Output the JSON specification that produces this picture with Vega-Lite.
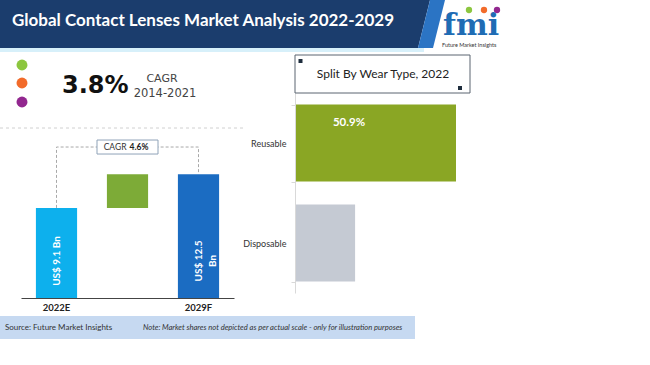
{
  "$schema": "https://vega.github.io/schema/vega-lite/v6.json",
  "width": 650,
  "height": 365,
  "autosize": "none",
  "padding": 0,
  "background": "white",
  "config": {"view": {"stroke": null}, "font": "Lato"},
  "datasets": {
    "deco": [{}],
    "market": [
      {"year": "2022E", "start": 0, "end": 9.1, "label": "US$ 9.1 Bn"},
      {"year": "CAGR", "start": 9.1, "end": 12.5, "label": ""},
      {"year": "2029F", "start": 0, "end": 12.5, "label": "US$ 12.5\nBn"}
    ],
    "connector": [
      {"cat": "2022E", "v": 9.1, "o": 1},
      {"cat": "2022E", "v": 15.25, "o": 2},
      {"cat": "2029F", "v": 15.25, "o": 3},
      {"cat": "2029F", "v": 12.5, "o": 4}
    ],
    "cagr": [{"cat": "CAGR", "v": 15.25}],
    "wear": [
      {"type": "Reusable", "share": 50.9, "label": "50.9%"},
      {"type": "Disposable", "share": 18.8, "label": ""}
    ]
  },
  "data": {"name": "deco"},
  "layer": [
    {"mark": {"type": "point", "shape": "M0,0L430,0L418,48L0,48Z", "size": 4, "filled": true, "fill": "#1b3d6d", "opacity": 1, "strokeWidth": 0}, "encoding": {"x": {"value": 0}, "y": {"value": 0}}},
    {"mark": {"type": "point", "shape": "M430,0L445,0L433,48L418,48Z", "size": 4, "filled": true, "fill": "#2b74c4", "opacity": 1, "strokeWidth": 0}, "encoding": {"x": {"value": 0}, "y": {"value": 0}}},
    {"mark": {"type": "rect", "fill": "#d7f0fa"}, "encoding": {"x": {"value": 0}, "x2": {"value": 424}, "y": {"value": 48}, "y2": {"value": 52}}},
    {"mark": {"type": "text", "text": "Global Contact Lenses Market Analysis 2022-2029", "font": "Lato", "fontWeight": "bold", "fontSize": 17, "color": "white", "align": "left", "baseline": "alphabetic"}, "encoding": {"x": {"value": 12}, "y": {"value": 26}}},
    {"mark": {"type": "text", "text": "fmi", "font": "DejaVu Serif", "fontWeight": "bold", "fontSize": 30, "color": "#1f6cb4", "align": "left", "baseline": "alphabetic"}, "encoding": {"x": {"value": 443}, "y": {"value": 35}}},
    {"mark": {"type": "text", "text": "Future Market Insights", "fontSize": 5.5, "color": "#333333", "align": "left", "baseline": "middle"}, "encoding": {"x": {"value": 442}, "y": {"value": 45}}},
    {"mark": {"type": "point", "shape": "circle", "size": 40, "filled": true, "opacity": 1, "fill": "#8cc63f"}, "encoding": {"x": {"value": 469}, "y": {"value": 10}}},
    {"mark": {"type": "point", "shape": "circle", "size": 40, "filled": true, "opacity": 1, "fill": "#f26b2a"}, "encoding": {"x": {"value": 484}, "y": {"value": 10}}},
    {"mark": {"type": "point", "shape": "circle", "size": 40, "filled": true, "opacity": 1, "fill": "#92278f"}, "encoding": {"x": {"value": 497}, "y": {"value": 10}}},
    {"mark": {"type": "point", "shape": "circle", "size": 120, "filled": true, "opacity": 1, "fill": "#8cc63f"}, "encoding": {"x": {"value": 22}, "y": {"value": 65}}},
    {"mark": {"type": "point", "shape": "circle", "size": 120, "filled": true, "opacity": 1, "fill": "#f26b2a"}, "encoding": {"x": {"value": 22}, "y": {"value": 83}}},
    {"mark": {"type": "point", "shape": "circle", "size": 120, "filled": true, "opacity": 1, "fill": "#92278f"}, "encoding": {"x": {"value": 22}, "y": {"value": 102}}},
    {"mark": {"type": "text", "text": "3.8%", "font": "DejaVu Sans", "fontWeight": "bold", "fontSize": 24, "color": "#111111", "align": "left", "baseline": "alphabetic"}, "encoding": {"x": {"value": 62}, "y": {"value": 93}}},
    {"mark": {"type": "text", "text": "CAGR", "font": "DejaVu Sans", "fontSize": 11, "color": "#444444", "align": "center", "baseline": "alphabetic"}, "encoding": {"x": {"value": 162}, "y": {"value": 82}}},
    {"mark": {"type": "text", "text": "2014-2021", "font": "DejaVu Sans", "fontSize": 11.5, "color": "#444444", "align": "center", "baseline": "alphabetic"}, "encoding": {"x": {"value": 165}, "y": {"value": 97}}},
    {"mark": {"type": "rule", "color": "#d0d0d0", "strokeDash": [3, 3], "strokeWidth": 1}, "encoding": {"x": {"value": 0}, "x2": {"value": 246}, "y": {"value": 128}}},
    {"mark": {"type": "rect", "fill": "white", "stroke": "#5a6570", "strokeWidth": 1}, "encoding": {"x": {"value": 295}, "x2": {"value": 470}, "y": {"value": 55}, "y2": {"value": 93}}},
    {"mark": {"type": "point", "shape": "square", "size": 16, "filled": true, "opacity": 1, "fill": "#1e2d3d"}, "encoding": {"x": {"value": 300.5}, "y": {"value": 61}}},
    {"mark": {"type": "point", "shape": "square", "size": 16, "filled": true, "opacity": 1, "fill": "#1e2d3d"}, "encoding": {"x": {"value": 460}, "y": {"value": 88}}},
    {"mark": {"type": "text", "text": "Split By Wear Type, 2022", "fontSize": 12, "color": "#222222", "align": "center", "baseline": "middle"}, "encoding": {"x": {"value": 383}, "y": {"value": 74}}},
    {"mark": {"type": "rect", "fill": "#c6d9f1"}, "encoding": {"x": {"value": 0}, "x2": {"value": 415}, "y": {"value": 316}, "y2": {"value": 339}}},
    {"mark": {"type": "text", "text": "Source: Future Market Insights", "fontSize": 8, "color": "#333333", "align": "left", "baseline": "middle"}, "encoding": {"x": {"value": 5}, "y": {"value": 328}}},
    {"mark": {"type": "text", "text": "Note: Market shares not depicted as per actual scale - only for illustration purposes", "fontSize": 7.6, "fontStyle": "italic", "color": "#333333", "align": "left", "baseline": "middle"}, "encoding": {"x": {"value": 143}, "y": {"value": 328}}},
    {
      "data": {"name": "connector"},
      "mark": {"type": "line", "color": "#a9a9a9", "strokeDash": [3, 2], "strokeWidth": 1},
      "encoding": {
        "x": {"field": "cat", "type": "nominal", "scale": {"domain": ["2022E", "CAGR", "2029F"], "range": [21, 234], "paddingInner": 0.42, "paddingOuter": 0.21}, "axis": null},
        "y": {"field": "v", "type": "quantitative", "scale": {"domain": [0, 16], "range": [298, 139.6], "nice": false}, "axis": null},
        "order": {"field": "o", "type": "quantitative"}
      }
    },
    {
      "data": {"name": "market"},
      "mark": {"type": "bar"},
      "encoding": {
        "x": {"field": "year", "type": "nominal",
          "scale": {"domain": ["2022E", "CAGR", "2029F"], "range": [21, 234], "paddingInner": 0.42, "paddingOuter": 0.21},
          "axis": {"orient": "bottom", "offset": -67, "values": ["2022E", "2029F"], "title": null, "domainColor": "#444444", "ticks": false, "labelAngle": 0, "labelFontWeight": "bold", "labelFontSize": 9.5, "labelColor": "#222222", "labelPadding": 4, "labelFont": "Lato"}},
        "y": {"field": "start", "type": "quantitative", "scale": {"domain": [0, 16], "range": [298, 139.6], "nice": false}, "axis": null},
        "y2": {"field": "end"},
        "color": {"field": "year", "type": "nominal", "scale": {"domain": ["2022E", "CAGR", "2029F"], "range": ["#0db0ed", "#7dab37", "#1b6cc2"]}, "legend": null}
      }
    },
    {
      "data": {"name": "market"},
      "mark": {"type": "text", "angle": 270, "align": "center", "baseline": "middle", "dx": 37, "fontSize": 10, "fontWeight": "bold", "color": "white", "lineBreak": "\n", "lineHeight": 14, "font": "Lato"},
      "encoding": {
        "x": {"field": "year", "type": "nominal", "scale": {"domain": ["2022E", "CAGR", "2029F"], "range": [21, 234], "paddingInner": 0.42, "paddingOuter": 0.21}, "axis": null},
        "y": {"field": "start", "type": "quantitative", "scale": {"domain": [0, 16], "range": [298, 139.6], "nice": false}, "axis": null},
        "text": {"field": "label"}
      }
    },
    {
      "data": {"name": "cagr"},
      "mark": {"type": "point", "shape": "M-30.5,-7L30.5,-7L30.5,7L-30.5,7Z", "size": 4, "filled": true, "fill": "white", "opacity": 1, "stroke": "#8fa3b8", "strokeWidth": 1},
      "encoding": {
        "x": {"field": "cat", "type": "nominal", "scale": {"domain": ["2022E", "CAGR", "2029F"], "range": [21, 234], "paddingInner": 0.42, "paddingOuter": 0.21}, "axis": null},
        "y": {"field": "v", "type": "quantitative", "scale": {"domain": [0, 16], "range": [298, 139.6], "nice": false}, "axis": null}
      }
    },
    {
      "data": {"name": "cagr"},
      "mark": {"type": "text", "text": "CAGR", "align": "right", "baseline": "middle", "dx": -1, "fontSize": 8.5, "color": "#333333"},
      "encoding": {
        "x": {"field": "cat", "type": "nominal", "scale": {"domain": ["2022E", "CAGR", "2029F"], "range": [21, 234], "paddingInner": 0.42, "paddingOuter": 0.21}, "axis": null},
        "y": {"field": "v", "type": "quantitative", "scale": {"domain": [0, 16], "range": [298, 139.6], "nice": false}, "axis": null}
      }
    },
    {
      "data": {"name": "cagr"},
      "mark": {"type": "text", "text": "4.6%", "align": "left", "baseline": "middle", "dx": 2, "fontSize": 8.5, "fontWeight": "bold", "color": "#222222"},
      "encoding": {
        "x": {"field": "cat", "type": "nominal", "scale": {"domain": ["2022E", "CAGR", "2029F"], "range": [21, 234], "paddingInner": 0.42, "paddingOuter": 0.21}, "axis": null},
        "y": {"field": "v", "type": "quantitative", "scale": {"domain": [0, 16], "range": [298, 139.6], "nice": false}, "axis": null}
      }
    },
    {
      "data": {"name": "wear"},
      "mark": {"type": "bar"},
      "encoding": {
        "y": {"field": "type", "type": "nominal",
          "scale": {"domain": ["Reusable", "Disposable"], "range": [93, 293], "paddingInner": 0.23, "paddingOuter": 0.115},
          "axis": {"orient": "left", "offset": -295, "title": null, "domainColor": "#d9d9d9", "tickColor": "#d9d9d9", "tickSize": 4, "tickBand": "extent", "labelFontSize": 9, "labelColor": "#333333", "labelPadding": 5, "labelFont": "Lato"}},
        "x": {"field": "share", "type": "quantitative", "scale": {"domain": [0, 60], "range": [296, 484.6], "nice": false}, "axis": null},
        "color": {"field": "type", "type": "nominal", "scale": {"domain": ["Reusable", "Disposable"], "range": ["#8aa624", "#c5cad3"]}, "legend": null}
      }
    },
    {
      "data": {"name": "wear"},
      "mark": {"type": "text", "align": "center", "baseline": "middle", "dx": -107, "dy": -20, "fontSize": 11.5, "fontWeight": "bold", "color": "white", "font": "Lato"},
      "encoding": {
        "y": {"field": "type", "type": "nominal", "scale": {"domain": ["Reusable", "Disposable"], "range": [93, 293], "paddingInner": 0.23, "paddingOuter": 0.115}, "axis": null},
        "x": {"field": "share", "type": "quantitative", "scale": {"domain": [0, 60], "range": [296, 484.6], "nice": false}, "axis": null},
        "text": {"field": "label"}
      }
    }
  ],
  "resolve": {"scale": {"x": "independent", "y": "independent", "color": "independent"}}
}
